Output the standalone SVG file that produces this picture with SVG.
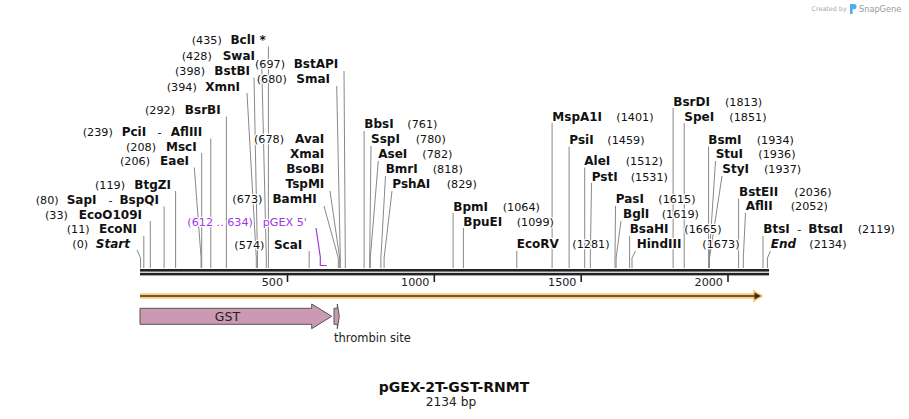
<svg xmlns="http://www.w3.org/2000/svg" width="909" height="419" viewBox="0 0 909 419">
<style>
text{font-family:"DejaVu Sans",Verdana,sans-serif;fill:#111;stroke:#fff;stroke-width:2.5;stroke-linejoin:round;paint-order:stroke}
.n{font-size:11.2px}
.b{font-size:12px;font-weight:bold}
.i{font-style:italic}
.e{text-anchor:end}
.p{fill:#a236e6}
.ld{fill:none;stroke:#888;stroke-width:1}
.pl{fill:none;stroke:#a236e6;stroke-width:1.2}
.tk{stroke:#222;stroke-width:1.6}
.tl{font-size:11.2px;text-anchor:end;fill:#222}
</style>
<rect width="909" height="419" fill="#fff"/>
<g id="logo">
<text x="811.5" y="11" style="font-size:6.4px;fill:#aaa;stroke:none">Created by</text>
<path d="M850,4 h4 a2.6,2.6 0 0 1 0,5.2 h-1.4 v4.8 h-2.6 z" fill="#4ab0ea"/>
<text x="859" y="11.5" style="font-size:8.2px;fill:#999;stroke:none">SnapGene</text>
</g>
<g id="connectors">
<polyline class="ld" points="137,250 140.6,258 140.6,268"/>
<line class="ld" x1="143.8" y1="236" x2="143.8" y2="268"/>
<line class="ld" x1="150.3" y1="221" x2="150.3" y2="268"/>
<line class="ld" x1="164.1" y1="206.5" x2="164.1" y2="268"/>
<line class="ld" x1="175.6" y1="191" x2="175.6" y2="268"/>
<polyline class="ld" points="194.3,167.5 201.1,258 201.1,268"/>
<line class="ld" x1="201.7" y1="153" x2="201.7" y2="268"/>
<line class="ld" x1="210.8" y1="138.5" x2="210.8" y2="268"/>
<line class="ld" x1="226.4" y1="116.5" x2="226.4" y2="268"/>
<polyline class="ld" points="247,93 256.3,258 256.3,268"/>
<polyline class="ld" points="254,77.5 257.5,258 257.5,268"/>
<polyline class="ld" points="261.7,62.5 266.3,258 266.3,268"/>
<line class="ld" x1="268.4" y1="46.5" x2="268.4" y2="268"/>
<polyline class="ld" points="344,71 345.3,258 345.3,268"/>
<polyline class="ld" points="336.7,86 340.3,258 340.3,268"/>
<polyline class="ld" points="330,191 339.7,258 339.7,268"/>
<polyline class="ld" points="324,206 338.3,258 338.3,268"/>
<line class="ld" x1="309.2" y1="251" x2="309.2" y2="268"/>
<path class="pl" d="M316,228 L320.3,257 L320.3,265.5 L326.8,265.5"/>
<line class="ld" x1="364.1" y1="131" x2="364.1" y2="268"/>
<polyline class="ld" points="371,146 369.7,258 369.7,268"/>
<polyline class="ld" points="378.3,161 370.3,258 370.3,268"/>
<polyline class="ld" points="385.5,176 380.9,258 380.9,268"/>
<polyline class="ld" points="392,191 384.1,258 384.1,268"/>
<line class="ld" x1="453.1" y1="213" x2="453.1" y2="268"/>
<line class="ld" x1="463.4" y1="228" x2="463.4" y2="268"/>
<line class="ld" x1="516.8" y1="251" x2="516.8" y2="268"/>
<line class="ld" x1="552.1" y1="123" x2="552.1" y2="268"/>
<line class="ld" x1="569.1" y1="146.5" x2="569.1" y2="268"/>
<line class="ld" x1="584.7" y1="167.5" x2="584.7" y2="268"/>
<polyline class="ld" points="591.5,183 590.3,258 590.3,268"/>
<polyline class="ld" points="615.5,206 615,258 615,268"/>
<polyline class="ld" points="621,221 616.1,258 616.1,268"/>
<line class="ld" x1="629.6" y1="236" x2="629.6" y2="268"/>
<polyline class="ld" points="635.5,251 632,258 632,268"/>
<line class="ld" x1="673.1" y1="108" x2="673.1" y2="268"/>
<line class="ld" x1="684.2" y1="123" x2="684.2" y2="268"/>
<line class="ld" x1="708.6" y1="146.5" x2="708.6" y2="268"/>
<polyline class="ld" points="715.5,161 709.2,258 709.2,268"/>
<polyline class="ld" points="722,176 709.5,258 709.5,268"/>
<line class="ld" x1="738.6" y1="198.5" x2="738.6" y2="268"/>
<polyline class="ld" points="745.5,213 743.3,258 743.3,268"/>
<line class="ld" x1="763" y1="236" x2="763" y2="268"/>
<polyline class="ld" points="770.5,251 767.4,258 767.4,268"/>
</g>
<g id="ruler">
<rect x="140" y="269" width="629" height="2.6" fill="#222"/>
<rect x="140" y="272.8" width="629" height="2.6" fill="#222"/>
<line class="tk" x1="287.5" y1="275" x2="287.5" y2="282"/>
<line class="tk" x1="434.3" y1="275" x2="434.3" y2="282"/>
<line class="tk" x1="581.2" y1="275" x2="581.2" y2="282"/>
<line class="tk" x1="728" y1="275" x2="728" y2="282"/>
<text class="tl" x="283" y="285.5">500</text>
<text class="tl" x="429.5" y="285.5">1000</text>
<text class="tl" x="576.5" y="285.5">1500</text>
<text class="tl" x="723" y="285.5">2000</text>
</g>
<g id="orf">
<rect x="140" y="293.3" width="616" height="5.4" fill="#fbca78"/>
<polygon points="753,289.5 763.5,296 753,302.5" fill="#fbca78"/>
<line x1="140" y1="296" x2="756" y2="296" stroke="#3a3228" stroke-width="1.6"/>
<polygon points="754.5,292.5 761,296 754.5,299.5" fill="#3a3228"/>
</g>
<g id="GST">
<path d="M140,308.3 L311.7,308.3 L311.7,304 L331.7,316.3 L311.7,328.7 L311.7,324.3 L140,324.3 Z" fill="#cc99b3" stroke="#555" stroke-width="1"/>
<text x="227.5" y="320.5" style="font-size:12.5px;text-anchor:middle;stroke:none;fill:#222">GST</text>
</g>
<g id="thrombin">
<path d="M334,308.3 L337.3,308.3 L337.3,304 L339.3,316.3 L337.3,328.7 L337.3,324.3 L334,324.3 Z" fill="#cc99b3" stroke="#555" stroke-width="1"/>
<text x="334" y="341.5" style="font-size:11.5px;stroke:none;fill:#222">thrombin site</text>
</g>
<g id="title">
<text x="454" y="392" style="font-size:14px;font-weight:bold;text-anchor:middle;stroke:none">pGEX-2T-GST-RNMT</text>
<text x="451" y="406" style="font-size:12.2px;text-anchor:middle;stroke:none;fill:#222">2134 bp</text>
</g>
<g id="Start"><text class="n" x="72.3" y="248">(0)</text><text class="b i e" x="130" y="248">Start</text></g>
<g id="EcoNI"><text class="n" x="66.7" y="233">(11)</text><text class="b e" x="137" y="233">EcoNI</text></g>
<g id="EcoO109I"><text class="n" x="45" y="219">(33)</text><text class="b e" x="142" y="219">EcoO109I</text></g>
<g id="SapI"><text class="n" x="35.7" y="204">(80)</text><text class="b" x="66.7" y="204">SapI</text><text class="n" x="108.5" y="204">-</text><text class="b e" x="159" y="204">BspQI</text></g>
<g id="BtgZI"><text class="n" x="95" y="189">(119)</text><text class="b e" x="171" y="189">BtgZI</text></g>
<g id="EaeI"><text class="n" x="120" y="165">(206)</text><text class="b e" x="189" y="165">EaeI</text></g>
<g id="MscI"><text class="n" x="126" y="151">(208)</text><text class="b e" x="196.7" y="151">MscI</text></g>
<g id="PciI"><text class="n" x="82.7" y="135.5">(239)</text><text class="b" x="121.7" y="135.5">PciI</text><text class="n" x="157.5" y="135.5">-</text><text class="b e" x="202.3" y="135.5">AflIII</text></g>
<g id="BsrBI"><text class="n" x="145" y="114">(292)</text><text class="b e" x="220.7" y="114">BsrBI</text></g>
<g id="XmnI"><text class="n" x="166.7" y="91">(394)</text><text class="b e" x="240" y="91">XmnI</text></g>
<g id="BstBI"><text class="n" x="175" y="75.3">(398)</text><text class="b e" x="250" y="75.3">BstBI</text></g>
<g id="SwaI"><text class="n" x="181.7" y="60">(428)</text><text class="b e" x="255" y="60">SwaI</text></g>
<g id="BclI"><text class="n" x="191.7" y="44">(435)</text><text class="b e" x="265.7" y="44">BclI *</text></g>
<g id="BstAPI"><text class="n" x="255" y="68.3">(697)</text><text class="b e" x="338.3" y="68.3">BstAPI</text></g>
<g id="SmaI"><text class="n" x="256.7" y="83">(680)</text><text class="b e" x="330" y="83">SmaI</text></g>
<g id="AvaI"><text class="n" x="254" y="143.3">(678)</text><text class="b e" x="324.3" y="143.3">AvaI</text><text class="b e" x="324.3" y="157.7">XmaI</text><text class="b e" x="324.3" y="173">BsoBI</text><text class="b e" x="324.3" y="188.3">TspMI</text></g>
<g id="BamHI"><text class="n" x="232.3" y="203.3">(673)</text><text class="b e" x="316.7" y="203.3">BamHI</text></g>
<g id="pGEX5"><text class="n p" x="187.3" y="226">(612 .. 634)</text><text class="n p" x="262.7" y="226">pGEX 5'</text></g>
<g id="ScaI"><text class="n" x="234.3" y="249">(574)</text><text class="b e" x="302.3" y="249">ScaI</text></g>
<g id="BbsI"><text class="b" x="364.3" y="128.3">BbsI</text><text class="n" x="407.3" y="128.3">(761)</text></g>
<g id="SspI"><text class="b" x="371" y="143.3">SspI</text><text class="n" x="415.7" y="143.3">(780)</text></g>
<g id="AseI"><text class="b" x="378.3" y="158.3">AseI</text><text class="n" x="422.3" y="158.3">(782)</text></g>
<g id="BmrI"><text class="b" x="385.7" y="173.3">BmrI</text><text class="n" x="432.7" y="173.3">(818)</text></g>
<g id="PshAI"><text class="b" x="392.3" y="188.3">PshAI</text><text class="n" x="446.7" y="188.3">(829)</text></g>
<g id="BpmI"><text class="b" x="453.3" y="210.7">BpmI</text><text class="n" x="502.7" y="210.7">(1064)</text></g>
<g id="BpuEI"><text class="b" x="463.3" y="225.7">BpuEI</text><text class="n" x="516.7" y="225.7">(1099)</text></g>
<g id="EcoRV"><text class="b" x="516.7" y="248.3">EcoRV</text><text class="n" x="572.3" y="248.3">(1281)</text></g>
<g id="MspA1I"><text class="b" x="552.3" y="120.7">MspA1I</text><text class="n" x="616.3" y="120.7">(1401)</text></g>
<g id="PsiI"><text class="b" x="569.3" y="144">PsiI</text><text class="n" x="607.3" y="144">(1459)</text></g>
<g id="AleI"><text class="b" x="584.3" y="165">AleI</text><text class="n" x="625.7" y="165">(1512)</text></g>
<g id="PstI"><text class="b" x="591.7" y="180.7">PstI</text><text class="n" x="630.7" y="180.7">(1531)</text></g>
<g id="PasI"><text class="b" x="615.7" y="203.3">PasI</text><text class="n" x="658.3" y="203.3">(1615)</text></g>
<g id="BglI"><text class="b" x="623" y="218.3">BglI</text><text class="n" x="661.7" y="218.3">(1619)</text></g>
<g id="BsaHI"><text class="b" x="629.7" y="233.3">BsaHI</text><text class="n" x="684.3" y="233.3">(1665)</text></g>
<g id="HindIII"><text class="b" x="636.7" y="248.3">HindIII</text><text class="n" x="702.3" y="248.3">(1673)</text></g>
<g id="BsrDI"><text class="b" x="673.3" y="105.7">BsrDI</text><text class="n" x="725" y="105.7">(1813)</text></g>
<g id="SpeI"><text class="b" x="684.3" y="120.7">SpeI</text><text class="n" x="729.3" y="120.7">(1851)</text></g>
<g id="BsmI"><text class="b" x="708.3" y="144">BsmI</text><text class="n" x="756.7" y="144">(1934)</text></g>
<g id="StuI"><text class="b" x="715.7" y="158.3">StuI</text><text class="n" x="758.3" y="158.3">(1936)</text></g>
<g id="StyI"><text class="b" x="722.3" y="173.3">StyI</text><text class="n" x="764" y="173.3">(1937)</text></g>
<g id="BstEII"><text class="b" x="739" y="195.7">BstEII</text><text class="n" x="794.3" y="195.7">(2036)</text></g>
<g id="AflII"><text class="b" x="745.7" y="210">AflII</text><text class="n" x="790.7" y="210">(2052)</text></g>
<g id="BtsI"><text class="b" x="763.3" y="233.3">BtsI</text><text class="n" x="797.3" y="233.3">-</text><text class="b" x="808.3" y="233.3">BtsαI</text><text class="n" x="857.7" y="233.3">(2119)</text></g>
<g id="End"><text class="b i" x="770.7" y="248.3">End</text><text class="n" x="809.3" y="248.3">(2134)</text></g>
</svg>
